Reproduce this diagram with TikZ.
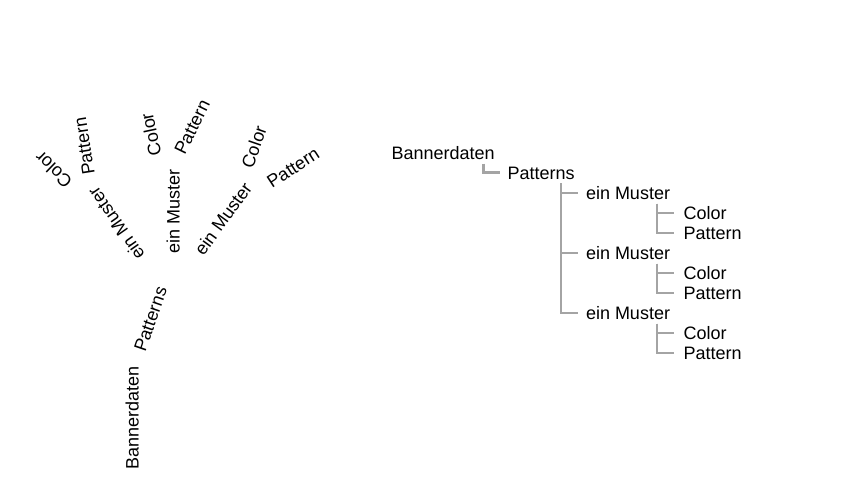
\documentclass[tikz,border=0pt]{standalone}
\usepackage{fontspec}
\setmainfont{Liberation Sans}
\definecolor{conncol}{HTML}{A4A4A4}
\begin{document}
\begin{tikzpicture}[x=1pt,y=-1pt,
  txt/.style={inner sep=0pt,outer sep=0pt,font=\fontsize{18}{20}\selectfont},
  rtxt/.style={txt,anchor=base west},
  ltxt/.style={txt,anchor=mid},
  conn/.style={draw=conncol,line width=2.5pt}]
\useasboundingbox (0,0) rectangle (854,480);
% left, rotated tree
\node[ltxt,rotate=90]  (lbd) at (136,418.3) {Bannerdaten};
\node[ltxt,rotate=71]  (lpt) at (153.8,320.3) {Patterns};
\node[ltxt,rotate=125] (lm1) at (119.2,221.7) {ein Muster};
\node[ltxt,rotate=136] (lc1) at (56,167.2) {Color};
\node[ltxt,rotate=99]  (lp1) at (87.7,145.7) {Pattern};
\node[ltxt,rotate=90]  (lm2) at (177,211.3) {ein Muster};
\node[ltxt,rotate=102] (lc2) at (154.5,133.8) {Color};
\node[ltxt,rotate=64]  (lp2) at (195.3,128.7) {Pattern};
\node[ltxt,rotate=54]  (lm3) at (226.2,220.8) {ein Muster};
\node[ltxt,rotate=71]  (lc3) at (257.5,148.3) {Color};
\node[ltxt,rotate=33]  (lp3) at (295,170.8) {Pattern};
% right tree
\node[rtxt] (bd) at (391.5,159.5) {Bannerdaten};
\node[rtxt] (pt) at (507.5,179.5) {Patterns};
\node[rtxt] (m1) at (586,199.5) {ein Muster};
\node[rtxt] (c1) at (683.5,219.5) {Color};
\node[rtxt] (p1) at (683.5,239.5) {Pattern};
\node[rtxt] (m2) at (586,259.5) {ein Muster};
\node[rtxt] (c2) at (683.5,279.5) {Color};
\node[rtxt] (p2) at (683.5,299.5) {Pattern};
\node[rtxt] (m3) at (586,319.5) {ein Muster};
\node[rtxt] (c3) at (683.5,339.5) {Color};
\node[rtxt] (p3) at (683.5,359.5) {Pattern};
% connectors
\draw[conn] ([xshift=92pt,yshift=-4pt]bd.base west) |- ([xshift=-7.5pt,yshift=7pt]pt.base west);
\foreach \m in {m1,m2,m3}
  \draw[conn] ([xshift=53.5pt,yshift=-3.5pt]pt.base west) |- ([xshift=-8.5pt,yshift=6.5pt]\m.base west);
\foreach \m/\c/\p in {m1/c1/p1,m2/c2/p2,m3/c3/p3}{
  \draw[conn] ([xshift=71pt,yshift=-4pt]\m.base west) |- ([xshift=-9.5pt,yshift=6.5pt]\c.base west);
  \draw[conn] ([xshift=71pt,yshift=-4pt]\m.base west) |- ([xshift=-9.5pt,yshift=6.5pt]\p.base west);
}
\end{tikzpicture}
\end{document}
